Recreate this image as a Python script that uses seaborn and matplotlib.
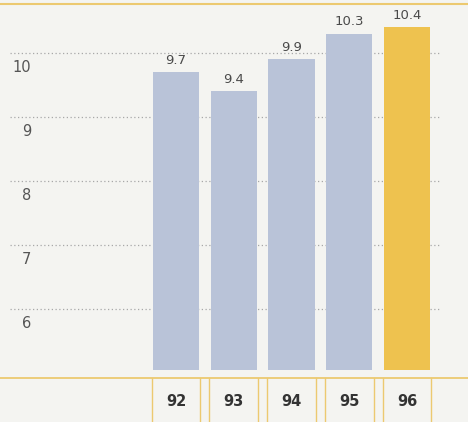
import matplotlib
matplotlib.use("Agg")
import matplotlib.pyplot as plt
import matplotlib.transforms as mtransforms
import seaborn as sns
import pandas as pd

years = ["92", "93", "94", "95", "96"]
values = [9.7, 9.4, 9.9, 10.3, 10.4]
bar_colors = ["#b9c3d8", "#b9c3d8", "#b9c3d8", "#b9c3d8", "#eec24f"]
y_ticks = [6, 7, 8, 9, 10]

sns.set_theme(style="white")
plt.rcParams['font.family'] = ['DejaVu Sans']

W, H = 468, 422
bg = "#f4f4f1"
yellow = "#ecc970"
fig = plt.figure(figsize=(W / 100, H / 100), dpi=100, facecolor=bg)
ax = fig.add_axes([0, (H - 370) / H, 1, 370 / H])
ax.set_facecolor(bg)

df = pd.DataFrame({"year": years, "value": values})
sns.barplot(data=df, x="year", y="value", hue="year", palette=bar_colors,
            legend=False, width=0.8, ax=ax, zorder=2, saturation=1,
            linewidth=0, edgecolor="none")

# scales: pixel geometry
px_per_cat = 57.75
x0 = 176
ax.set_xlim(-x0 / px_per_cat, (W - x0) / px_per_cat)
px_per_unit = 64
ax.set_ylim(10 - (370 - 53) / px_per_unit, 10 + 53 / px_per_unit)

for s in ax.spines.values():
    s.set_visible(False)

# gridlines
xl = ax.get_xlim()
for t in y_ticks:
    ax.hlines(t, xl[0] + 10 / px_per_cat, xl[0] + 440 / px_per_cat,
              colors="#a8a8a8", linestyles=(0, (1, 2)), linewidth=0.9, zorder=1)
    ax.text(xl[0] + 31 / px_per_cat, t - 14 / px_per_unit, str(t),
            ha="right", va="center", fontsize=10.5, color="#555555")

ax.set_yticks([])
ax.set_ylabel("")
ax.set_xlabel("")

# bar value labels
for c in ax.containers:
    ax.bar_label(c, labels=[f"{v:g}" for v in c.datavalues], padding=4,
                 fontsize=9.5, color="#4a4a4a")

# x tick labels (bold, in table row)
ax.set_xticks(range(len(years)))
ax.set_xticklabels(years, fontsize=10.5, fontweight="bold", color="#333333")
ax.tick_params(axis="x", length=0, pad=17)

# table lines
trans = mtransforms.blended_transform_factory(ax.transData, ax.transAxes)
ylo = -8 / 370
yhi = -60 / 370
for i in range(len(years)):
    for dx in (-0.42, 0.42):
        ax.plot([i + dx, i + dx], [ylo, yhi], transform=trans, color=yellow,
                lw=1.0, clip_on=False)
fig.add_artist(plt.Line2D([0, 1], [1 - 378 / H, 1 - 378 / H], color=yellow,
                          lw=1.3, transform=fig.transFigure))
fig.add_artist(plt.Line2D([0, 1], [1 - 4 / H, 1 - 4 / H], color=yellow,
                          lw=1.5, transform=fig.transFigure))

fig.savefig("out.png", dpi=100, facecolor=bg)
